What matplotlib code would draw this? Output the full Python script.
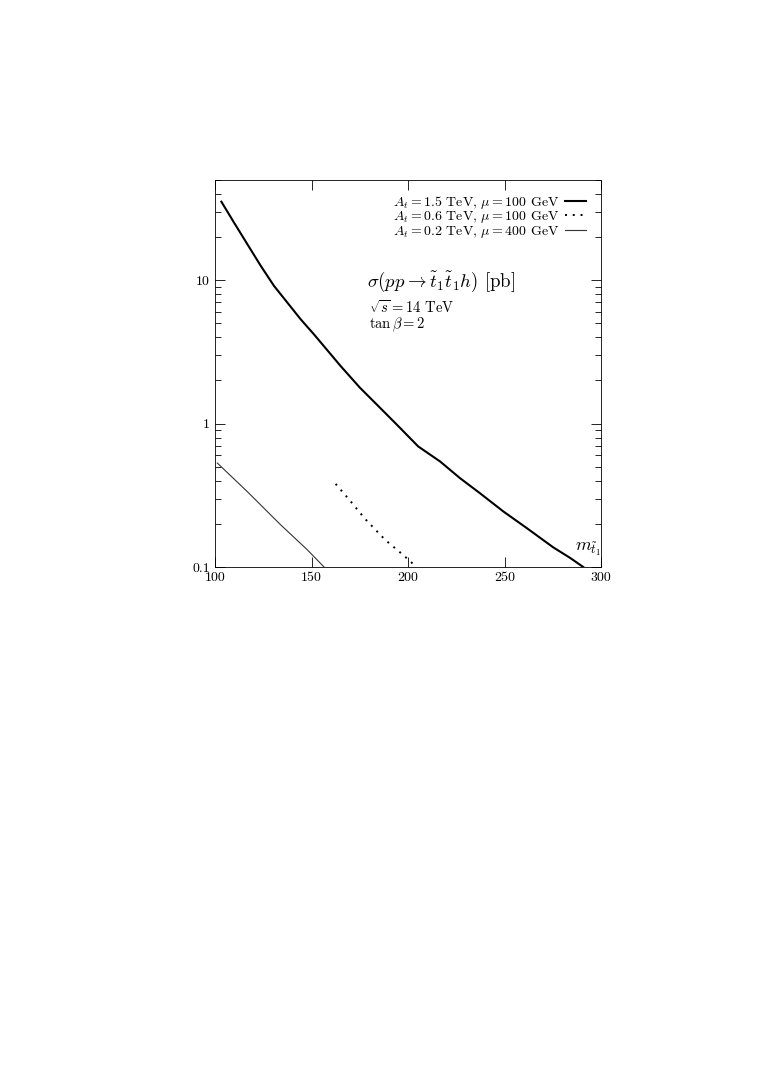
import matplotlib
matplotlib.use('Agg')
import matplotlib.pyplot as plt
from matplotlib.ticker import FixedLocator, LogLocator, NullFormatter

plt.rcParams['font.family'] = 'serif'
plt.rcParams['font.serif'] = ['cmr10', 'DejaVu Serif']
plt.rcParams['mathtext.fontset'] = 'cm'
plt.rcParams['axes.formatter.use_mathtext'] = True

# A_t = 1.5 TeV, mu = 100 GeV
m_a = [103.3, 109.8, 116.7, 123.7, 130.6, 137.5, 144.4, 151.3, 158.2, 165.1, 175.1, 185.5,
       195.9, 205.3, 216.6, 226.9, 237.3, 249.4, 261.5, 275.3, 283.9, 290.8]
s_a = [35.3, 25.3, 17.9, 12.6, 9.12, 6.98, 5.34, 4.19, 3.25, 2.52, 1.78, 1.29,
       0.933, 0.693, 0.545, 0.417, 0.327, 0.244, 0.187, 0.137, 0.116, 0.1]
# A_t = 0.6 TeV, mu = 100 GeV
m_b = [162.5, 170.0, 177.7, 188.1, 197.6, 204.4]
s_b = [0.38, 0.29, 0.217, 0.155, 0.121, 0.1]
# A_t = 0.2 TeV, mu = 400 GeV
m_c = [101.2, 116.7, 134.0, 147.8, 156.5]
s_c = [0.531, 0.336, 0.197, 0.132, 0.1]

labels = [r'$A_t = 1.5$ TeV, $\mu = 100$ GeV',
          r'$A_t = 0.6$ TeV, $\mu = 100$ GeV',
          r'$A_t = 0.2$ TeV, $\mu = 400$ GeV']
yticks = [0.1, 1, 10]
ytick_labels = ['0.1', '1', '10']
xticks = [100, 150, 200, 250, 300]

fig = plt.figure(figsize=(7.63, 10.78), dpi=100)
ax = fig.add_axes([0.2818, 0.474, 0.5059, 0.359])

ax.plot(m_a, s_a, color='black', lw=1.5, label=labels[0])
ax.plot(m_b, s_b, color='black', lw=1.4, linestyle=(0, (1, 3)), label=labels[1])
ax.plot(m_c, s_c, color='#333333', lw=0.8, label=labels[2])

ax.set_yscale('log')
ax.set_xlim(100, 300)
ax.set_ylim(0.1, 50)
ax.set_xticks(xticks)
ax.set_xticklabels([str(x) for x in xticks])
ax.yaxis.set_major_locator(FixedLocator(yticks))
ax.set_yticklabels(ytick_labels)
ax.yaxis.set_minor_locator(LogLocator(base=10, subs=range(2, 10)))
ax.yaxis.set_minor_formatter(NullFormatter())
ax.tick_params(which='both', direction='in', top=True, right=True, labelsize=10, width=0.6)
ax.tick_params(which='major', length=7)
ax.tick_params(which='minor', length=4)
for s in ax.spines.values():
    s.set_linewidth(0.6)

ax.legend(loc='upper right', frameon=False, markerfirst=False, fontsize=10,
          handlelength=1.5, handletextpad=0.4, labelspacing=-0.1,
          borderaxespad=0.3, bbox_to_anchor=(0.985, 0.99))

ax.text(0.395, 0.737, r'$\sigma(pp \rightarrow \tilde{t}_1\tilde{t}_1 h)$ [pb]',
        transform=ax.transAxes, fontsize=13.5, va='center')
ax.text(0.4, 0.67, r'$\sqrt{s} = 14$ TeV', transform=ax.transAxes, fontsize=10.5, va='center')
ax.text(0.4, 0.625, r'$\tan\beta = 2$', transform=ax.transAxes, fontsize=10.5, va='center')
ax.text(0.932, 0.045, r'$m_{\tilde{t}_1}$', transform=ax.transAxes, fontsize=13, va='center')

fig.savefig('out.png', dpi=100)
